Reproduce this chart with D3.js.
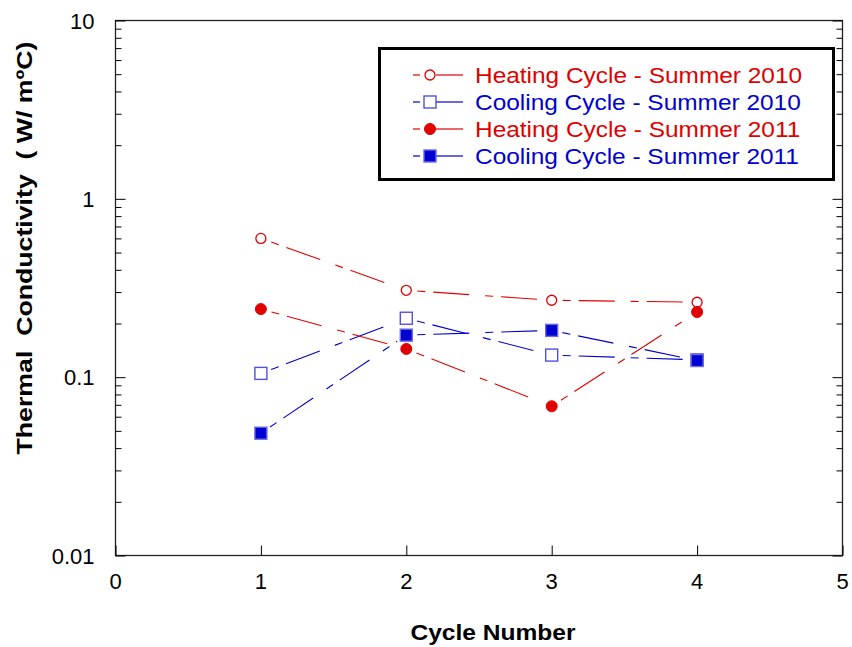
<!DOCTYPE html>
<html>
<head>
<meta charset="utf-8">
<script src="https://cdn.jsdelivr.net/npm/d3@7"></script>
<style>
  html, body { margin: 0; padding: 0; background: #fff; }
  svg { display: block; font-family: "Liberation Sans", Arial, Helvetica, sans-serif; }
</style>
</head>
<body>
<svg id="chart" width="852" height="647"></svg>
<script>
// Cycle numbers on the x axis
const cycles = [1, 2, 3, 4];

// Thermal conductivity (W/m°C) per cycle
const heating2010 = [0.60, 0.307, 0.270, 0.263];
const cooling2010 = [0.105, 0.214, 0.133, 0.125];
const heating2011 = [0.241, 0.144, 0.0687, 0.232];
const cooling2011 = [0.0485, 0.172, 0.183, 0.124];

const seriesNames = [
  "Heating Cycle - Summer 2010",
  "Cooling Cycle - Summer 2010",
  "Heating Cycle - Summer 2011",
  "Cooling Cycle - Summer 2011"
];

const xTicks = [0, 1, 2, 3, 4, 5];
const yTicks = [0.01, 0.1, 1, 10];
const yTickLabels = ["0.01", "0.1", "1", "10"];

const RED = "#e00000";
const BLUE = "#0000d0";

const series = [
  { name: seriesNames[0], values: heating2010, color: RED, shape: "circle", filled: false },
  { name: seriesNames[1], values: cooling2010, color: BLUE, shape: "square", filled: false },
  { name: seriesNames[2], values: heating2011, color: RED, shape: "circle", filled: true },
  { name: seriesNames[3], values: cooling2011, color: BLUE, shape: "square", filled: true }
];

const svg = d3.select("#chart");
const plotL = 115.5, plotR = 842.5, plotT = 20.5, plotB = 555.5;

const x = d3.scaleLinear().domain([0, 5]).range([plotL, plotR]);
const y = d3.scaleLog().domain([0.01, 10]).range([plotB, plotT]);

// Text in this chart is set slightly wide
const WIDEN = 1.11;
function widen(sel) {
  sel.each(function () {
    const w = this.getComputedTextLength();
    d3.select(this).attr("textLength", w * WIDEN).attr("lengthAdjust", "spacingAndGlyphs");
  });
}

// Minor log ticks (2..9 in each decade)
const minor = [];
for (let d = 0.01; d < 10; d *= 10) {
  for (let k = 2; k <= 9; k++) minor.push(+(d * k).toPrecision(3));
}

// Frame
svg.append("rect")
  .attr("x", plotL).attr("y", plotT)
  .attr("width", plotR - plotL).attr("height", plotB - plotT)
  .attr("fill", "none").attr("stroke", "#222").attr("stroke-width", 1.3);

// Left axis (ticks point inward)
const gL = svg.append("g").attr("transform", `translate(${plotL},0)`);
gL.call(d3.axisRight(y).tickValues(yTicks).tickSize(10).tickFormat(""))
  .call(g => g.select(".domain").remove());
gL.append("g").call(d3.axisRight(y).tickValues(minor).tickSize(6).tickFormat(""))
  .call(g => g.select(".domain").remove());

// Right axis
const gR = svg.append("g").attr("transform", `translate(${plotR},0)`);
gR.call(d3.axisLeft(y).tickValues(yTicks).tickSize(10).tickFormat(""))
  .call(g => g.select(".domain").remove());
gR.append("g").call(d3.axisLeft(y).tickValues(minor).tickSize(6).tickFormat(""))
  .call(g => g.select(".domain").remove());

// Bottom axis
const gB = svg.append("g").attr("transform", `translate(0,${plotB})`);
gB.call(d3.axisTop(x).tickValues(xTicks).tickSize(10).tickFormat(""))
  .call(g => g.select(".domain").remove());

svg.selectAll(".tick line").attr("stroke", "#000").attr("stroke-width", 1);

// Tick labels
svg.append("g").selectAll("text").data(yTicks).join("text")
  .attr("x", plotL - 21).attr("y", d => y(d) + 8)
  .attr("text-anchor", "end")
  .attr("font-size", 22)
  .text((d, i) => yTickLabels[i]);

svg.append("g").selectAll("text").data(xTicks).join("text")
  .attr("x", d => x(d)).attr("y", plotB + 33)
  .attr("text-anchor", "middle")
  .attr("font-size", 22)
  .text(d => d);

// Axis titles
svg.append("text")
  .attr("x", 493).attr("y", 640)
  .attr("text-anchor", "middle")
  .attr("font-size", 22).attr("font-weight", "bold")
  .attr("textLength", 165).attr("lengthAdjust", "spacingAndGlyphs")
  .text("Cycle Number");

svg.append("text")
  .attr("transform", "translate(32,248) rotate(-90)")
  .attr("text-anchor", "middle")
  .attr("font-size", 22).attr("font-weight", "bold")
  .attr("xml:space", "preserve")
  .attr("textLength", 413).attr("lengthAdjust", "spacingAndGlyphs")
  .text("Thermal  Conductivity  ( W/ mºC)");

// Dashed connecting lines, broken around each marker
const dash = "8,8,36,16";
const gap = 11;
const lines = svg.append("g");
series.forEach(s => {
  for (let i = 0; i < cycles.length - 1; i++) {
    const x0 = x(cycles[i]), y0 = y(s.values[i]);
    const x1 = x(cycles[i + 1]), y1 = y(s.values[i + 1]);
    const len = Math.hypot(x1 - x0, y1 - y0);
    const ux = (x1 - x0) / len, uy = (y1 - y0) / len;
    lines.append("line")
      .attr("x1", x0 + ux * gap).attr("y1", y0 + uy * gap)
      .attr("x2", x1 - ux * gap).attr("y2", y1 - uy * gap)
      .attr("stroke", s.color).attr("stroke-width", 1.1)
      .attr("stroke-dasharray", dash);
  }
});

// Markers
function drawMarker(g, s, cx, cy) {
  if (s.shape === "circle") {
    g.append("circle")
      .attr("cx", cx).attr("cy", cy).attr("r", s.filled ? 5.5 : 5)
      .attr("fill", s.filled ? s.color : "#fff")
      .attr("stroke", s.color).attr("stroke-width", s.filled ? 1 : 1.3);
  } else {
    const h = 6;
    g.append("rect")
      .attr("x", cx - h).attr("y", cy - h)
      .attr("width", 2 * h).attr("height", 2 * h)
      .attr("fill", s.filled ? s.color : "#fff")
      .attr("stroke", s.filled ? "#6a6ae8" : "#5050e0").attr("stroke-width", 1.4);
  }
}

const marks = svg.append("g");
series.forEach(s => {
  s.values.forEach((v, i) => drawMarker(marks, s, x(cycles[i]), y(v)));
});

// Legend
const lg = svg.append("g");
lg.append("rect")
  .attr("x", 379.5).attr("y", 48.5).attr("width", 454).attr("height", 131)
  .attr("fill", "#fff").attr("stroke", "#000").attr("stroke-width", 3);

series.forEach((s, i) => {
  const ry = 75 + i * 27;
  lg.append("line").attr("x1", 413).attr("x2", 420).attr("y1", ry).attr("y2", ry)
    .attr("stroke", s.color).attr("stroke-width", 1.2);
  lg.append("line").attr("x1", 436).attr("x2", 463).attr("y1", ry).attr("y2", ry)
    .attr("stroke", s.color).attr("stroke-width", 1.2);
  drawMarker(lg, s, 430, ry);
  lg.append("text")
    .attr("class", "legend-label")
    .attr("x", 475).attr("y", ry + 8)
    .attr("font-size", 22)
    .attr("fill", s.color)
    .text(s.name);
});
lg.selectAll(".legend-label").call(widen);
</script>
</body>
</html>
